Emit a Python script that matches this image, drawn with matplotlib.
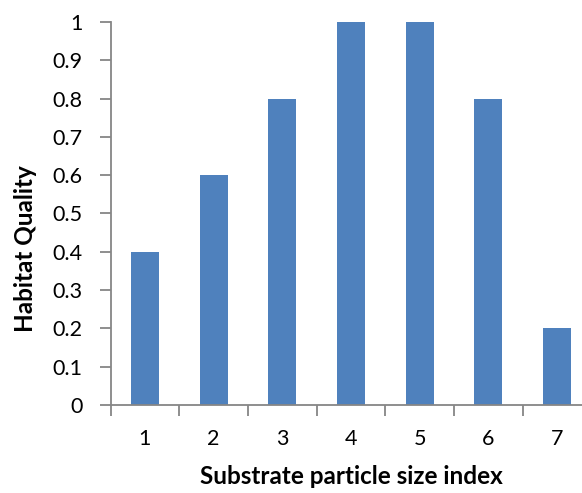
import matplotlib
matplotlib.use('Agg')
import matplotlib.pyplot as plt
import numpy as np

plt.rcParams['font.family'] = ['Lato', 'DejaVu Sans']

categories = ['1', '2', '3', '4', '5', '6', '7']
quality = [0.4, 0.6, 0.8, 1.0, 1.0, 0.8, 0.2]
yticks = [0, 0.1, 0.2, 0.3, 0.4, 0.5, 0.6, 0.7, 0.8, 0.9, 1]
ytick_labels = ['0', '0.1', '0.2', '0.3', '0.4', '0.5', '0.6', '0.7', '0.8', '0.9', '1']

fig = plt.figure(figsize=(5.82, 4.93), dpi=100)
ax = fig.add_axes([0.190, 0.1785, 0.826, 0.777])

x = np.arange(1, len(categories) + 1)
ax.bar(x, quality, width=0.41, color='#4F81BD')

ax.set_xlim(0.5, 7.5)
ax.set_ylim(0, 1)
ax.set_yticks(yticks)
ax.set_yticklabels(ytick_labels)

# category labels at centres, tick marks at boundaries (Excel style)
ax.set_xticks(x)
ax.set_xticklabels(categories)
ax.set_xticks(np.arange(0.5, 8.0, 1.0), minor=True)
ax.tick_params(axis='x', which='major', length=0, pad=17, labelsize=15.5)
ax.tick_params(axis='x', which='minor', length=8, width=1.3, color='#868686', direction='out')
ax.tick_params(axis='y', length=8, width=1.3, color='#868686', direction='out', pad=12, labelsize=15.5)

for s in ['top', 'right']:
    ax.spines[s].set_visible(False)
for s in ['left', 'bottom']:
    ax.spines[s].set_color('#868686')
    ax.spines[s].set_linewidth(1.3)

ax.set_xlabel('Substrate particle size index', fontsize=17.5, fontweight='bold', labelpad=12)
ax.set_ylabel('Habitat Quality', fontsize=17.5, fontweight='bold')
ax.yaxis.set_label_coords(-0.153, 0.407)

fig.savefig('out.png', dpi=100)
